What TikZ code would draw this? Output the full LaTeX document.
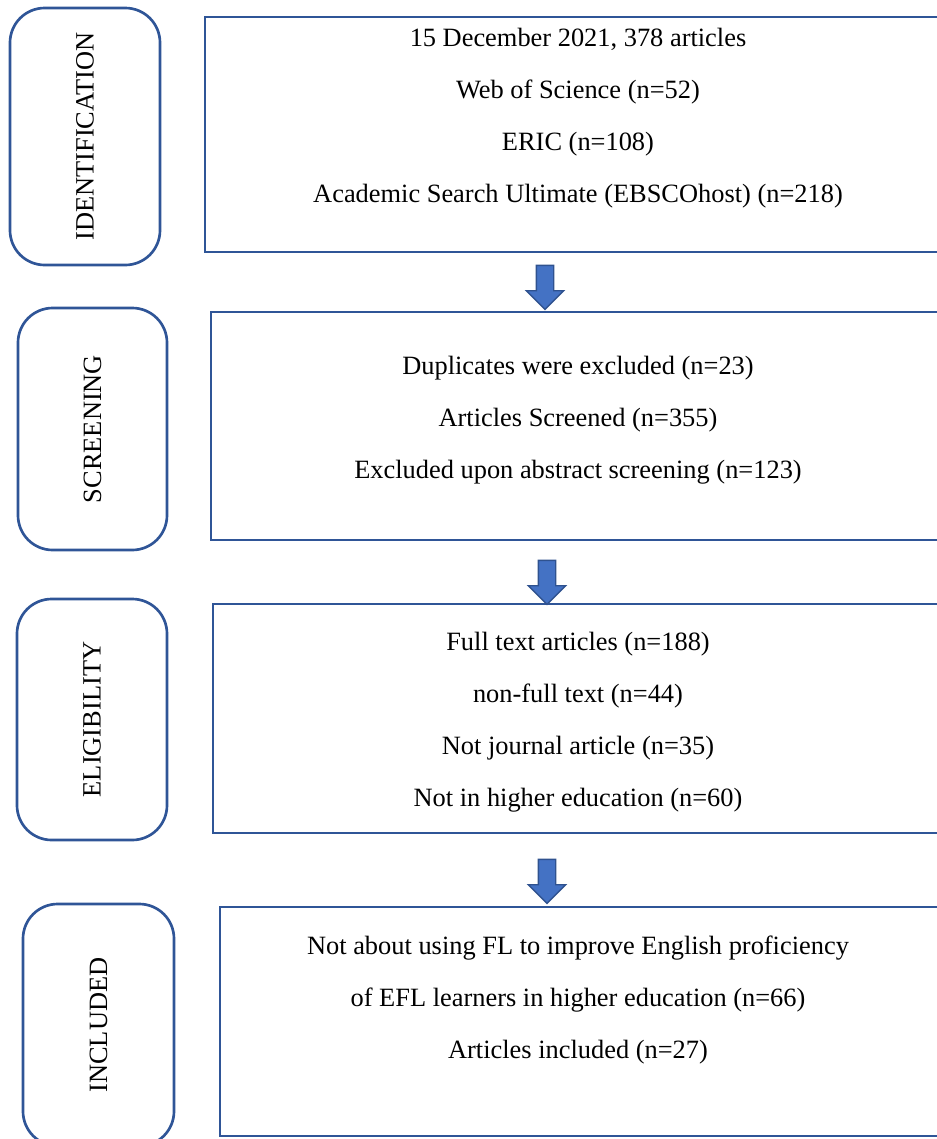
\documentclass[tikz,border=0pt]{standalone}
\usepackage{fontspec}
\setmainfont{Liberation Serif}
\usepackage{xcolor}
\usepackage{tikz}
\usetikzlibrary{shapes,arrows,positioning}
\definecolor{stageblue}{RGB}{47,85,151}
\definecolor{arrowblue}{RGB}{68,114,196}
\definecolor{arrowedge}{RGB}{47,82,143}
\tikzset{stage-box/.style={draw=stageblue, line width=2pt, rounded corners=26pt, rotate=90, inner sep=0, font=\fontsize{19.8}{24}\selectfont}}
\tikzset{record-box/.style={draw=stageblue, line width=2pt, inner sep=0}}
\tikzset{record-text/.style={align=center, inner sep=0, font=\fontsize{19.8}{39}\selectfont}}
\tikzset{down-arrow/.style={
        single arrow,
        shape border rotate=270,
        minimum height=33pt,
        inner sep=6pt,
        line width=1pt,
        draw=arrowedge,
        fill=arrowblue,
        single arrow tip angle=90,
        single arrow head extend=7.5pt
    }
}

\begin{document}
\begin{tikzpicture}[x=0.75pt, y=-0.75pt]
            \useasboundingbox (0,0) rectangle (936,1139);

            \node[stage-box, minimum width=192.75pt, minimum height=112.5pt] (identification) at (85,136.5) {IDENTIFICATION};
            \node[stage-box, minimum width=181.5pt, minimum height=111.75pt] (screening) at (92.5,429) {SCREENING};
            \node[stage-box, minimum width=180.75pt, minimum height=112.5pt] (eligibility) at (92,719.5) {ELIGIBILITY};
            \node[stage-box, minimum width=181.5pt, minimum height=113.25pt] (included) at (98.5,1025) {INCLUDED};

            \node[record-box, minimum width=566.25pt, minimum height=176.25pt] (idbox) at (582.5,134.5) {};
            \node[record-box, minimum width=561.75pt, minimum height=171pt] (scrbox) at (585.5,426) {};
            \node[record-box, minimum width=560.25pt, minimum height=171.75pt] (elibox) at (586.5,718.5) {};
            \node[record-box, minimum width=555pt, minimum height=171.75pt] (incbox) at (590,1021.5) {};

            \node[record-text] (idtext) at (578,118) {15 December 2021, 378 articles\\ Web of Science (n=52)\\ ERIC (n=108)\\ Academic Search Ultimate (EBSCOhost) (n=218)};
            \node[record-text] (scrtext) at (578,420) {Duplicates were excluded (n=23)\\ Articles Screened (n=355)\\ Excluded upon abstract screening (n=123)};
            \node[record-text] (elitext) at (578,722) {Full text articles (n=188)\\ non-full text (n=44)\\ Not journal article (n=35)\\ Not in higher education (n=60)};
            \node[record-text] (inctext) at (578,1000) {Not about using FL to improve English proficiency\\ of EFL learners in higher education (n=66)\\ Articles included (n=27)};

            \node[down-arrow] (arrow1) at (545,283) {};
            \node[down-arrow] (arrow2) at (547,578) {};
            \node[down-arrow] (arrow3) at (547,877) {};

        \end{tikzpicture}
\end{document}
